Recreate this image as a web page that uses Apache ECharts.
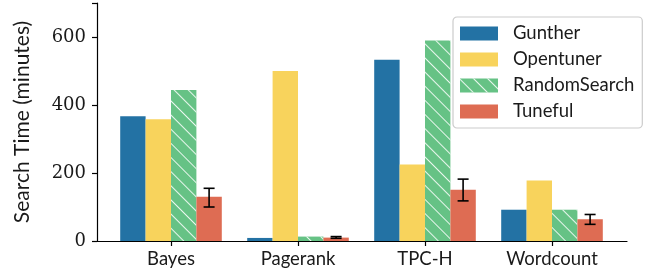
<!DOCTYPE html>
<html>
<head>
<meta charset="utf-8">
<script src="https://cdn.jsdelivr.net/npm/echarts@6/dist/echarts.min.js"></script>
<style>
  html, body { margin: 0; padding: 0; background: #fff; }
  #chart { width: 650px; height: 280px; }
</style>
</head>
<body>
<div id="chart"></div>
<script>
// data (minutes)
const categories = ['Bayes', 'Pagerank', 'TPC-H', 'Wordcount']
const gunther = [367, 9, 533, 92]
const opentuner = [358, 500, 225, 178]
const randomSearch = [444, 13, 590, 92]
const tuneful = [130, 10, 151, 64]
const tunefulLow = [100, 8, 118, 49]
const tunefulHigh = [155, 13, 182, 78]
const yTicks = [0, 200, 400, 600]

const sansFont = 'Lato'
const serifFont = 'DejaVu Serif'

const chart = echarts.init(document.getElementById('chart'), null, { renderer: 'canvas' })

// grid 0 only draws the frame (y axis + bottom line), grid 1 holds the bars
const option = {
  animation: false,
  grid: [
    { left: 97, right: 23, top: 3, bottom: 39 },
    { left: 107.5, right: 34.5, top: 3, bottom: 39 }
  ],
  xAxis: [
    {
      gridIndex: 0, type: 'value', min: 0, max: 1,
      axisLine: { show: true, onZero: false, lineStyle: { color: '#000', width: 1.2 } },
      axisTick: { show: false }, axisLabel: { show: false }, splitLine: { show: false }
    },
    {
      gridIndex: 1, type: 'category', data: categories,
      axisLine: { show: false },
      axisTick: { show: true, alignWithLabel: true, length: 5, lineStyle: { color: '#000', width: 1.2 } },
      axisLabel: { margin: 9, color: '#1a1a1a', fontFamily: sansFont, fontSize: 18.5 },
      splitLine: { show: false }
    }
  ],
  yAxis: [
    {
      gridIndex: 0, type: 'value', min: 0, max: 700, interval: 200,
      name: 'Search Time (minutes)', nameLocation: 'middle', nameGap: 64,
      nameTextStyle: { color: '#1a1a1a', fontFamily: sansFont, fontSize: 21 },
      axisLine: { show: true, lineStyle: { color: '#000', width: 1.2 } },
      axisTick: { show: true, length: 5, lineStyle: { color: '#000', width: 1.2 } },
      axisLabel: {
        margin: 11, color: '#1a1a1a', fontFamily: serifFont, fontSize: 18,
        formatter: v => (yTicks.indexOf(v) >= 0 ? String(v) : '')
      },
      splitLine: { show: false }
    },
    {
      gridIndex: 1, type: 'value', min: 0, max: 700, interval: 200,
      axisLine: { show: false }, axisTick: { show: false },
      axisLabel: { show: false }, splitLine: { show: false }
    }
  ],
  legend: {
    left: 453, top: 17,
    orient: 'vertical',
    icon: 'rect',
    padding: [7, 8, 7, 7],
    itemWidth: 38, itemHeight: 14, itemGap: 7,
    borderColor: '#cccccc', borderWidth: 1.2, borderRadius: 4,
    backgroundColor: 'rgba(255,255,255,0.85)',
    textStyle: { color: '#1a1a1a', fontFamily: sansFont, fontSize: 18.5, lineHeight: 18, padding: [0, 0, 0, 10] },
    data: ['Gunther', 'Opentuner', 'RandomSearch', 'Tuneful']
  },
  series: [
    {
      name: 'Gunther', type: 'bar', xAxisIndex: 1, yAxisIndex: 1,
      data: gunther, barGap: '0%', barCategoryGap: '20%',
      itemStyle: { color: '#2372a4' }
    },
    {
      name: 'Opentuner', type: 'bar', xAxisIndex: 1, yAxisIndex: 1,
      data: opentuner,
      itemStyle: { color: '#f8d35c' }
    },
    {
      name: 'RandomSearch', type: 'bar', xAxisIndex: 1, yAxisIndex: 1,
      data: randomSearch,
      itemStyle: {
        color: '#66c285',
        // white diagonal hatch ("\\")
        decal: {
          symbol: 'rect', symbolSize: 1,
          color: 'rgba(255,255,255,0.85)',
          dashArrayX: [1, 0], dashArrayY: [1, 8.5],
          rotation: Math.PI / 4
        }
      }
    },
    {
      name: 'Tuneful', type: 'bar', xAxisIndex: 1, yAxisIndex: 1,
      data: tuneful,
      itemStyle: { color: '#de6c53' }
    },
    {
      // error bars on Tuneful
      type: 'custom', xAxisIndex: 1, yAxisIndex: 1, z: 10,
      data: categories.map((c, i) => [i, tunefulLow[i], tunefulHigh[i]]),
      renderItem: (params, api) => {
        const band = api.size([1, 0])[0]
        const offset = band * 0.3
        const lo = api.coord([api.value(0), api.value(1)])
        const hi = api.coord([api.value(0), api.value(2)])
        const x = lo[0] + offset
        const cap = 5.5
        const style = { stroke: '#000', lineWidth: 1.6 }
        return {
          type: 'group',
          children: [
            { type: 'line', shape: { x1: x, y1: lo[1], x2: x, y2: hi[1] }, style },
            { type: 'line', shape: { x1: x - cap, y1: lo[1], x2: x + cap, y2: lo[1] }, style },
            { type: 'line', shape: { x1: x - cap, y1: hi[1], x2: x + cap, y2: hi[1] }, style }
          ]
        }
      }
    }
  ]
}

chart.setOption(option)
</script>
</body>
</html>
